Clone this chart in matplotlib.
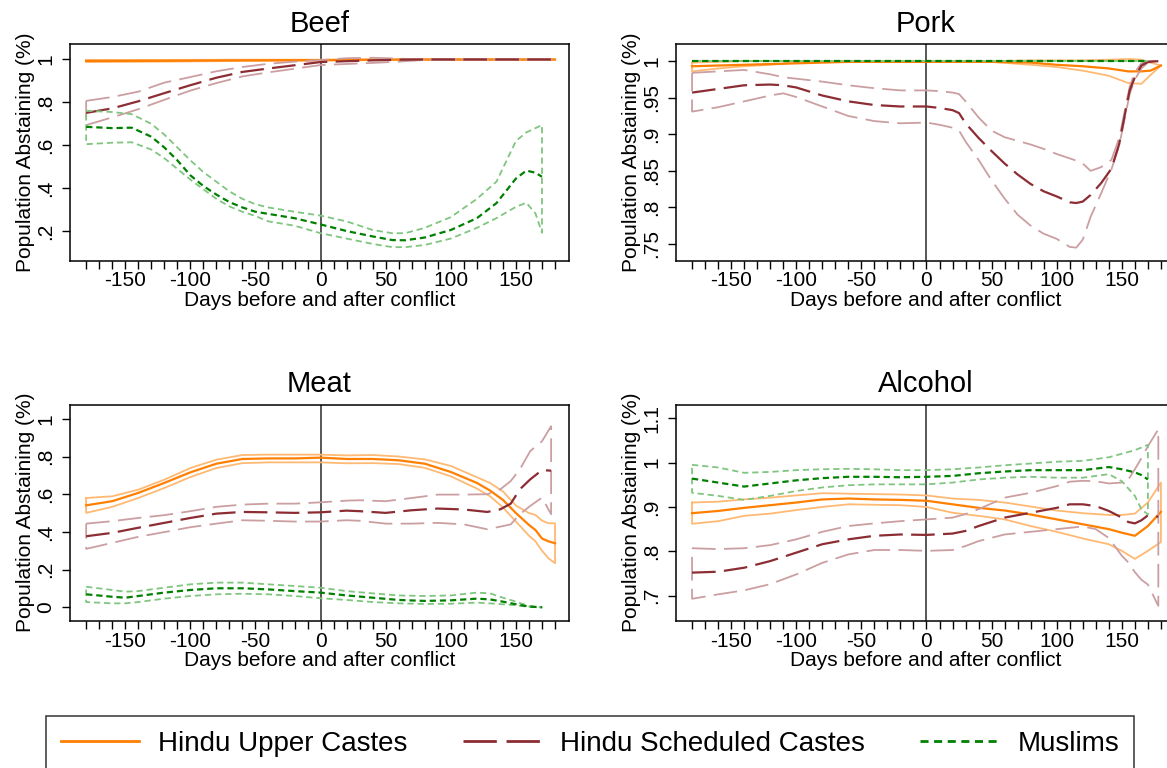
"""
plot.py
-------
Share of the population abstaining from beef, pork, meat and alcohol
in the days before and after a conflict, by community (lowess fits with
their confidence bands).

Output:
    out.png
"""

import numpy as np
import matplotlib
matplotlib.use("Agg")
import matplotlib.pyplot as plt
from matplotlib.lines import Line2D

plt.rcParams["font.family"] = ["Liberation Sans", "DejaVu Sans"]
plt.rcParams["lines.scale_dashes"] = False

# ── Beef ──
BEEF_UC_X   = [-180, -120, -60, 0, 40, 80, 180]
BEEF_UC_MID = [0.993, 0.994, 0.996, 0.997, 0.999, 1.0, 1.0]
BEEF_UC_LO  = [0.988, 0.990, 0.993, 0.995, 0.997, 0.999, 0.999]
BEEF_UC_HI  = [0.998, 0.998, 0.999, 0.999, 1.0, 1.0, 1.0]

BEEF_SC_X   = [-180, -160, -140, -120, -100, -80, -60, -40, -20, 0, 20, 40, 60, 80, 100, 140, 180]
BEEF_SC_MID = [.751, .772, .805, .843, .880, .915, .942, .958, .973, .988, .992, .996, .999, 1.0, 1.0, 1.0, 1.0]
BEEF_SC_HI  = [.807, .825, .850, .892, .918, .945, .965, .980, .990, .997, 1.006, 1.008, 1.004, 1.0, 1.0, 1.0, 1.0]
BEEF_SC_LO  = [.694, .730, .768, .812, .855, .890, .921, .940, .957, .974, .979, .984, .990, .998, 1.0, 1.0, 1.0]

BEEF_MU_X   = [-180, -160, -145, -130, -120, -110, -100, -90, -80, -70, -60, -50, -40, -20,
               0, 20, 40, 55, 65, 80, 100, 120, 135, 150, 158, 165, 170]
BEEF_MU_MID = [.686, .680, .682, .640, .590, .530, .460, .410, .370, .335, .310, .290, .280, .260,
               .231, .200, .175, .158, .157, .170, .205, .260, .330, .445, .482, .472, .453]
BEEF_MU_HI  = [.761, .755, .745, .700, .650, .590, .530, .475, .430, .385, .350, .325, .310, .290,
               .272, .245, .205, .190, .190, .215, .265, .350, .430, .620, .660, .680, .694]
BEEF_MU_LO  = [.605, .612, .614, .580, .540, .490, .440, .395, .350, .315, .290, .270, .245, .225,
               .190, .165, .140, .125, .125, .135, .165, .215, .260, .313, .332, .282, .192]

# ── Pork ──
PORK_UC_X   = [-180, -160, -140, -120, -100, -80, -60, 0, 50, 80, 100, 120, 140, 155, 165, 172, 180]
PORK_UC_MID = [.993, .994, .995, .996, .997, .998, .999, .999, .999, .998, .995, .993, .990, .986, .986, .987, .994]
PORK_UC_HI  = [.998, .999, 1.0, 1.0, 1.0, 1.0, 1.0, 1.0, 1.0, 1.001, 1.001, 1.001, 1.002, 1.003, 1.002, .998, .994]
PORK_UC_LO  = [.986, .990, .993, .995, .998, .999, .999, .999, .999, .995, .992, .987, .980, .970, .969, .981, .994]

PORK_SC_X   = [-180, -160, -140, -120, -110, -100, -80, -60, -40, -20,
               0, 10, 20, 25, 30, 40, 50, 60, 70, 80,
               90, 100, 110, 115, 120, 126, 134, 142, 148, 152,
               156, 160, 165, 170, 178]
PORK_SC_MID = [.957, .962, .967, .968, .967, .964, .953, .945, .940, .938,
               .938, .936, .933, .929, .915, .895, .877, .860, .845, .832,
               .822, .815, .807, .806, .808, .817, .833, .853, .887, .924,
               .960, .978, .994, .999, 1.0]
PORK_SC_HI  = [.984, .986, .988, .982, .978, .976, .972, .967, .963, .960,
               .960, .959, .957, .955, .945, .923, .905, .896, .891, .886,
               .880, .873, .867, .864, .860, .850, .855, .865, .895, .930,
               .965, .985, .997, 1.0, 1.0]
PORK_SC_LO  = [.931, .937, .945, .953, .956, .951, .938, .925, .918, .915,
               .916, .913, .909, .905, .890, .865, .837, .812, .790, .775,
               .764, .757, .746, .745, .756, .787, .819, .852, .885, .920,
               .955, .975, .990, .998, 1.0]

PORK_MU_X   = [-180, -90, 0, 90, 170]
PORK_MU_MID = [1.0, 1.0, 1.0, 1.0, 1.0]
PORK_MU_HI  = [1.0, 1.0, 1.0, 1.0, 1.0]
PORK_MU_LO  = [1.0, 1.0, 1.0, 1.0, 1.0]

# ── Meat ──
MEAT_UC_X   = [-180, -160, -140, -120, -100, -80, -60, -40, -20, 0, 20, 40,
               60, 80, 100, 120, 130, 140, 150, 160, 165, 170, 175, 180]
MEAT_UC_MID = [.541, .563, .607, .660, .716, .762, .787, .790, .790, .794, .787, .787,
               .780, .762, .718, .660, .620, .570, .500, .437, .410, .365, .350, .340]
MEAT_UC_HI  = [.580, .589, .624, .677, .739, .783, .808, .810, .810, .810, .806, .808,
               .800, .785, .750, .690, .660, .615, .540, .500, .490, .460, .446, .446]
MEAT_UC_LO  = [.501, .533, .580, .633, .691, .739, .765, .769, .769, .769, .764, .765,
               .760, .740, .695, .630, .590, .530, .455, .380, .350, .300, .260, .234]

MEAT_SC_X   = [-180, -160, -140, -120, -100, -80, -60, -40, -20, 0, 20, 30,
               50, 70, 90, 110, 128, 138, 146, 153, 161, 170, 177]
MEAT_SC_MID = [.377, .395, .422, .448, .474, .497, .506, .504, .501, .504, .513, .510,
               .501, .515, .524, .519, .506, .520, .550, .626, .679, .728, .725]
MEAT_SC_HI  = [.444, .457, .474, .489, .510, .533, .545, .550, .550, .557, .566, .568,
               .563, .580, .598, .598, .600, .626, .670, .732, .829, .881, .961]
MEAT_SC_LO  = [.310, .342, .374, .399, .425, .444, .462, .459, .455, .455, .462, .459,
               .444, .444, .448, .440, .414, .428, .440, .494, .538, .582, .494]

MEAT_MU_X   = [-180, -160, -150, -140, -120, -100, -80, -60, -40, -20, 0,
               20, 40, 60, 80, 100, 120, 130, 140, 150, 160, 170]
MEAT_MU_MID = [.069, .056, .051, .060, .078, .092, .101, .101, .095, .086, .078,
               .063, .051, .039, .034, .037, .046, .042, .030, .016, .004, .000]
MEAT_MU_HI  = [.109, .092, .083, .086, .104, .122, .131, .131, .122, .113, .104,
               .086, .074, .063, .060, .063, .078, .074, .051, .030, .007, .000]
MEAT_MU_LO  = [.028, .021, .021, .028, .046, .060, .069, .072, .069, .060, .048,
               .039, .028, .021, .018, .019, .025, .021, .016, .011, .002, .000]

# ── Alcohol ──
ALC_UC_X    = [-180, -160, -140, -120, -100, -80, -60, -40, -20, 0, 20,
               40, 60, 80, 100, 120, 140, 150, 160, 170, 180]
ALC_UC_MID  = [.886, .891, .898, .904, .910, .917, .919, .917, .916, .914, .906,
               .898, .892, .883, .872, .861, .850, .842, .835, .857, .889]
ALC_UC_HI   = [.910, .912, .917, .921, .926, .931, .930, .929, .928, .926, .919,
               .916, .910, .901, .892, .886, .882, .882, .885, .910, .955]
ALC_UC_LO   = [.862, .868, .880, .885, .893, .900, .906, .905, .904, .900, .887,
               .880, .872, .857, .844, .829, .816, .801, .783, .801, .821]

ALC_SC_X    = [-180, -160, -140, -120, -100, -80, -60, -40, -20, 0, 20, 30, 40,
               60, 80, 100, 110, 120, 130, 140, 150, 155, 160, 165, 170, 178]
ALC_SC_MID  = [.752, .754, .763, .778, .797, .816, .827, .835, .838, .837, .840, .846, .857,
               .876, .887, .898, .906, .906, .902, .891, .876, .866, .863, .870, .881, .878]
ALC_SC_HI   = [.807, .805, .807, .814, .827, .844, .857, .863, .868, .872, .876, .884, .895,
               .921, .932, .947, .957, .959, .958, .953, .955, .962, .985, 1.010, 1.037, 1.075]
ALC_SC_LO   = [.693, .703, .712, .726, .748, .774, .793, .803, .803, .801, .803, .812, .823,
               .838, .844, .850, .853, .856, .850, .830, .790, .775, .753, .736, .725, .677]

ALC_MU_X    = [-180, -160, -140, -120, -100, -80, -60, -40, -20, 0, 20,
               40, 60, 80, 100, 120, 140, 150, 160, 165, 170]
ALC_MU_MID  = [.964, .955, .946, .953, .960, .965, .968, .968, .967, .968, .970,
               .976, .980, .983, .983, .983, .990, .985, .978, .972, .962]
ALC_MU_HI   = [.995, .989, .977, .979, .983, .985, .986, .985, .983, .983, .985,
               .989, .994, .998, 1.002, 1.004, 1.012, 1.020, 1.028, 1.034, 1.040]
ALC_MU_LO   = [.932, .925, .916, .925, .936, .944, .949, .951, .951, .951, .955,
               .962, .966, .968, .966, .966, .974, .958, .925, .895, .883]

# ── Axis ticks ──
X_TICKS       = [-150, -100, -50, 0, 50, 100, 150]
X_TICK_LABELS = ["-150", "-100", "-50", "0", "50", "100", "150"]

BEEF_YTICKS  = [0.2, 0.4, 0.6, 0.8, 1.0]
BEEF_YLABELS = [".2", ".4", ".6", ".8", "1"]
PORK_YTICKS  = [0.75, 0.8, 0.85, 0.9, 0.95, 1.0]
PORK_YLABELS = [".75", ".8", ".85", ".9", ".95", "1"]
MEAT_YTICKS  = [0.0, 0.2, 0.4, 0.6, 0.8, 1.0]
MEAT_YLABELS = ["0", ".2", ".4", ".6", ".8", "1"]
ALC_YTICKS   = [0.7, 0.8, 0.9, 1.0, 1.1]
ALC_YLABELS  = [".7", ".8", ".9", "1", "1.1"]

GROUP_LABELS = ["Hindu Upper Castes", "Hindu Scheduled Castes", "Muslims"]

# colour of the fit, colour of its band, dash pattern (None = solid)
UC_STYLE = ("#FF7F00", "#FFB973", None)
SC_STYLE = ("#8C2D33", "#CB9FA2", (17, 6))
MU_STYLE = ("#008000", "#80C580", (4.5, 2.8))


def draw_group(ax, x, mid, lo, hi, style):
    """
    Draw one group's fit and the outline of its confidence band.

    Args:
        ax    : matplotlib Axes
        x     (list): days relative to conflict
        mid   (list): fitted share abstaining
        lo/hi (list): band limits
        style (tuple): (line colour, band colour, dashes)
    """
    color, band_color, dashes = style
    ls = {"linestyle": "-"} if dashes is None else {"dashes": dashes}

    x  = np.asarray(x, dtype=float)
    lo = np.asarray(lo, dtype=float)
    hi = np.asarray(hi, dtype=float)

    # Band drawn as a closed outline, like Stata's rarea with no fill
    ring_x = np.concatenate([x, x[::-1], x[:1]])
    ring_y = np.concatenate([hi, lo[::-1], hi[:1]])
    ax.plot(ring_x, ring_y, color=band_color, lw=1.3, solid_joinstyle="round", **ls)
    ax.plot(x, mid, color=color, lw=1.6, **ls)


def setup_axes(ax, title, yticks, ylabels, ylim):
    """Common look of every panel."""
    ax.axvline(0, color="#2a2a2a", lw=1.1, zorder=0.5)

    ax.set_xlim(-192.2, 190.4)
    ax.set_ylim(*ylim)

    ax.set_xticks(X_TICKS)
    ax.set_xticklabels(X_TICK_LABELS, fontsize=15)
    ax.set_xticks(range(-180, 181, 10), minor=True)

    ax.set_yticks(yticks)
    ax.set_yticklabels(ylabels, fontsize=15, rotation=90, va="center")

    ax.tick_params(axis="both", which="both", direction="out",
                   length=5.8, width=1.0, color="black")
    ax.tick_params(axis="x", pad=2)
    ax.tick_params(axis="y", pad=5)

    for spine in ax.spines.values():
        spine.set_linewidth(1.1)
        spine.set_color("black")

    ax.set_title(title, fontsize=21, pad=9)
    ax.set_xlabel("Days before and after conflict", fontsize=15, labelpad=0.5)
    ax.set_ylabel("Population Abstaining (%)", fontsize=15, labelpad=1)


fig = plt.figure(figsize=(11.67, 7.68), dpi=100)

col_left  = [0.0602, 0.5794]
row_base  = [0.6606, 0.1918]
ax_w, ax_h = 0.427, 0.2815

ax_beef = fig.add_axes([col_left[0], row_base[0], ax_w, ax_h])
ax_pork = fig.add_axes([col_left[1], row_base[0], ax_w, ax_h])
ax_meat = fig.add_axes([col_left[0], row_base[1], ax_w, ax_h])
ax_alc  = fig.add_axes([col_left[1], row_base[1], ax_w, ax_h])

# ── Beef ──
setup_axes(ax_beef, "Beef", BEEF_YTICKS, BEEF_YLABELS, (0.062, 1.07))
draw_group(ax_beef, BEEF_UC_X, BEEF_UC_MID, BEEF_UC_LO, BEEF_UC_HI, UC_STYLE)
draw_group(ax_beef, BEEF_SC_X, BEEF_SC_MID, BEEF_SC_LO, BEEF_SC_HI, SC_STYLE)
draw_group(ax_beef, BEEF_MU_X, BEEF_MU_MID, BEEF_MU_LO, BEEF_MU_HI, MU_STYLE)

# ── Pork ──
setup_axes(ax_pork, "Pork", PORK_YTICKS, PORK_YLABELS, (0.7272, 1.0228))
draw_group(ax_pork, PORK_UC_X, PORK_UC_MID, PORK_UC_LO, PORK_UC_HI, UC_STYLE)
draw_group(ax_pork, PORK_SC_X, PORK_SC_MID, PORK_SC_LO, PORK_SC_HI, SC_STYLE)
draw_group(ax_pork, PORK_MU_X, PORK_MU_MID, PORK_MU_LO, PORK_MU_HI, MU_STYLE)

# ── Meat ──
setup_axes(ax_meat, "Meat", MEAT_YTICKS, MEAT_YLABELS, (-0.071, 1.076))
draw_group(ax_meat, MEAT_UC_X, MEAT_UC_MID, MEAT_UC_LO, MEAT_UC_HI, UC_STYLE)
draw_group(ax_meat, MEAT_SC_X, MEAT_SC_MID, MEAT_SC_LO, MEAT_SC_HI, SC_STYLE)
draw_group(ax_meat, MEAT_MU_X, MEAT_MU_MID, MEAT_MU_LO, MEAT_MU_HI, MU_STYLE)

# ── Alcohol ──
setup_axes(ax_alc, "Alcohol", ALC_YTICKS, ALC_YLABELS, (0.6436, 1.131))
draw_group(ax_alc, ALC_UC_X, ALC_UC_MID, ALC_UC_LO, ALC_UC_HI, UC_STYLE)
draw_group(ax_alc, ALC_SC_X, ALC_SC_MID, ALC_SC_LO, ALC_SC_HI, SC_STYLE)
draw_group(ax_alc, ALC_MU_X, ALC_MU_MID, ALC_MU_LO, ALC_MU_HI, MU_STYLE)

# ── Legend ──
handles = [
    Line2D([], [], color=UC_STYLE[0], lw=2.0, linestyle="-"),
    Line2D([], [], color=SC_STYLE[0], lw=2.0, dashes=(24, 7)),
    Line2D([], [], color=MU_STYLE[0], lw=2.0, dashes=(5.8, 4)),
]
leg = fig.legend(
    handles, GROUP_LABELS,
    loc="upper left",
    bbox_to_anchor=(0.039, 0.0, 0.933, 0.0681),
    mode="expand", ncol=3,
    fontsize=20, frameon=True, fancybox=False,
    edgecolor="black", borderaxespad=0,
    handlelength=2.8, handletextpad=0.7, borderpad=0.55,
)
leg.get_frame().set_linewidth(1.1)

fig.savefig("out.png", dpi=100)
